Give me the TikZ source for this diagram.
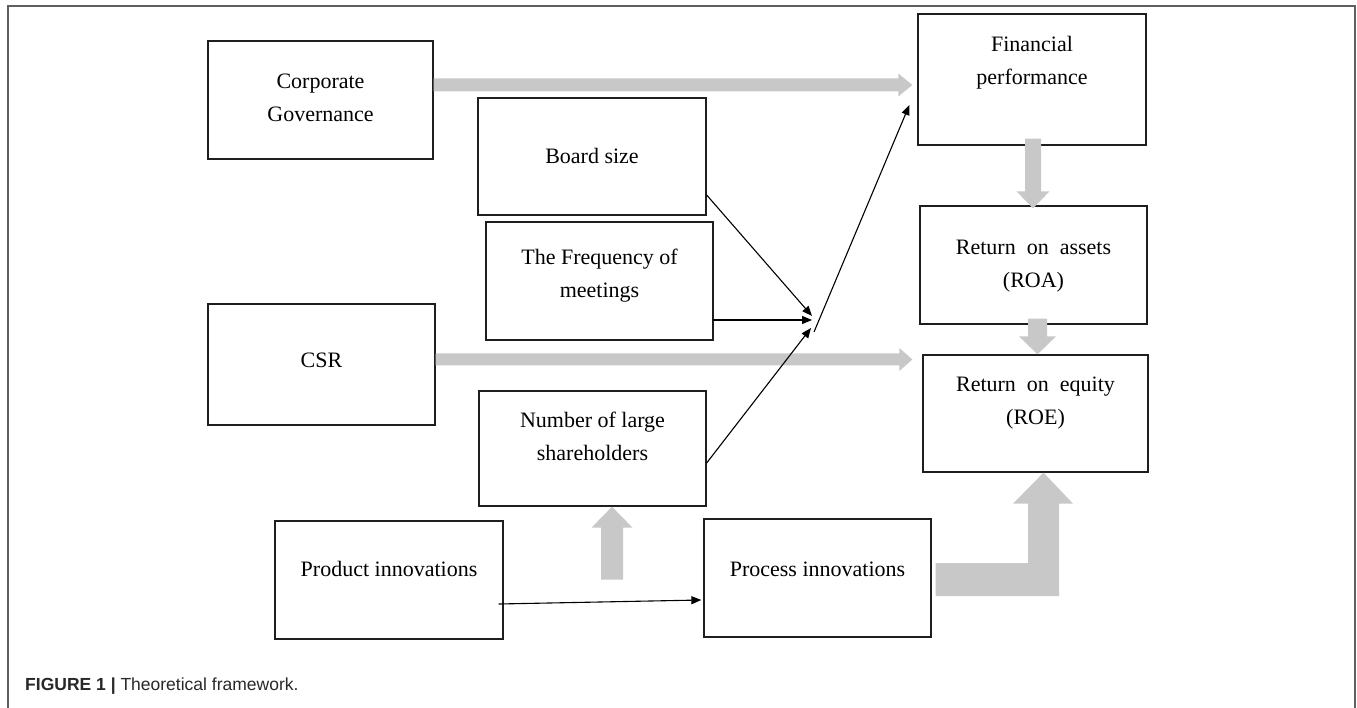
\documentclass[tikz,border=0pt]{standalone}
\usepackage{fontspec}
\setmainfont{Liberation Serif}
\newfontfamily\capfont{Liberation Sans}
\usetikzlibrary{calc,arrows.meta}
\definecolor{arrowgray}{RGB}{200,200,200}
\definecolor{framegray}{RGB}{95,95,95}
\definecolor{boxline}{RGB}{30,30,30}
\definecolor{captext}{RGB}{40,40,40}
% #1 start, #2 tip, #3 shaft half width, #4 head half width, #5 head length
\newcommand\blockarrow[5]{%
  \path ($(#2)!#5!(#1)$) coordinate (ba-b);
  \fill[arrowgray] ($(#1)!#3!90:(#2)$) -- ($(ba-b)!#3!90:(#2)$) -- ($(ba-b)!#4!90:(#2)$) -- (#2)
    -- ($(ba-b)!#4!-90:(#2)$) -- ($(ba-b)!#3!-90:(#2)$) -- ($(#1)!#3!-90:(#2)$) -- cycle;}
\begin{document}
\begin{tikzpicture}[x=1pt,y=-1pt,
  box/.style={draw=boxline, line width=1.3pt, inner sep=0pt},
  txt/.style={align=center, font=\fontsize{22}{33}\selectfont},
  thin/.style={draw=black, line width=1.1pt, -{Triangle[length=10pt,width=8pt]}}]
\useasboundingbox (0,0) rectangle (1357,708);
% outer frame
\draw[framegray, line width=1.5pt] (8,708) -- (8,6) -- (1355,6) -- (1355,708);
% boxes
\node[box, minimum width=225pt, minimum height=118pt,
  label={[txt,yshift=2pt]center:Corporate\\Governance}] (cg) at (320.5,100) {};
\node[box, minimum width=228pt, minimum height=117pt,
  label={[txt,yshift=1pt]center:Board size}] (bs) at (592,156.5) {};
\node[box, minimum width=227pt, minimum height=118pt,
  label={[txt,yshift=5pt]center:The Frequency of\\meetings}] (fr) at (599.5,281) {};
\node[box, minimum width=227pt, minimum height=121pt,
  label={[txt,yshift=4.5pt]center:CSR}] (csr) at (321.5,364.5) {};
\node[box, minimum width=227pt, minimum height=115pt,
  label={[txt,yshift=12.5pt]center:Number of large\\shareholders}] (sh) at (592.5,448.5) {};
\node[box, minimum width=228pt, minimum height=118pt,
  label={[txt,yshift=11pt]center:Product innovations}] (pr) at (389,580) {};
\node[box, minimum width=227pt, minimum height=118pt,
  label={[txt,yshift=9pt]center:Process innovations}] (pc) at (817.5,578) {};
\node[box, minimum width=228pt, minimum height=131pt,
  label={[txt,yshift=17pt]center:Financial\\performance}] (fp) at (1032,79.5) {};
\node[box, minimum width=227pt, minimum height=118pt,
  label={[txt,yshift=-1pt]center:Return\ \ on\ \ assets\\(ROA)}] (roa) at (1033.5,265) {};
\node[box, minimum width=225pt, minimum height=117pt,
  label={[txt,yshift=10.5pt]center:Return\ \ on\ \ equity\\(ROE)}] (roe) at (1035.5,413.5) {};
% block arrows
\coordinate (a1s) at ($(cg.east)+(0,-15)$);
\coordinate (a1e) at ($(fp.west |- a1s)+(-5,0)$);
\blockarrow{a1s}{a1e}{6.5pt}{11.5pt}{14pt}
\coordinate (a2s) at ($(csr.east)+(0,-5)$);
\coordinate (a2e) at ($(roe.west |- a2s)+(-10,0)$);
\blockarrow{a2s}{a2e}{6pt}{11.5pt}{13pt}
\coordinate (a3s) at ($(fp.south)+(1,-7)$);
\coordinate (a3e) at ($(roa.north)+(-0.5,3)$);
\blockarrow{a3s}{a3e}{8pt}{16.5pt}{17pt}
\coordinate (a4s) at ($(roa.south)+(4,-6)$);
\coordinate (a4e) at ($(roe.north)+(2,0)$);
\blockarrow{a4s}{a4e}{9.5pt}{18.5pt}{18pt}
\coordinate (a5e) at ($(sh.south)+(19.5,0)$);
\coordinate (a5s) at ($(a5e)+(0,73)$);
\blockarrow{a5s}{a5e}{11pt}{20.5pt}{21pt}
% L-shaped arrow from process innovations to ROE
\coordinate (ls) at ($(pc.east)+(4,1.5)$);
\coordinate (lt) at ($(roe.south)+(8,0)$);
\fill[arrowgray] ($(ls)+(0,-16.5)$) -- ($(lt |- ls)+(-15.5,-16.5)$) -- ($(lt)+(-15.5,31)$)
  -- ($(lt)+(-30.5,31)$) -- (lt) -- ($(lt)+(29.5,31)$) -- ($(lt)+(15.5,31)$)
  -- ($(lt |- ls)+(15.5,16.5)$) -- ($(ls)+(0,16.5)$) -- cycle;
% thin arrows
\coordinate (cvA) at (812,316);
\coordinate (cvB) at (812,320);
\coordinate (cvC) at (811,328);
\coordinate (cvD) at (814,332);
\draw[thin] ($(bs.east)+(0,38.5)$) -- (cvA);
\draw[thin] ($(fr.east)+(-1,39)$) -- (cvB);
\draw[thin] ($(sh.east)+(0,14.5)$) -- (cvC);
\draw[thin] (cvD) -- ($(fp.west)+(-8,25.5)$);
\draw[thin] ($(pr.east)+(-5,24)$) -- ($(pc.west)+(-2,22)$);
% caption
\node[anchor=west, inner sep=0pt, text=captext, font=\capfont\fontsize{17.5}{20}\selectfont]
  (cap) at (25,686) {\textbf{FIGURE 1 |} Theoretical framework.};
\end{tikzpicture}
\end{document}
